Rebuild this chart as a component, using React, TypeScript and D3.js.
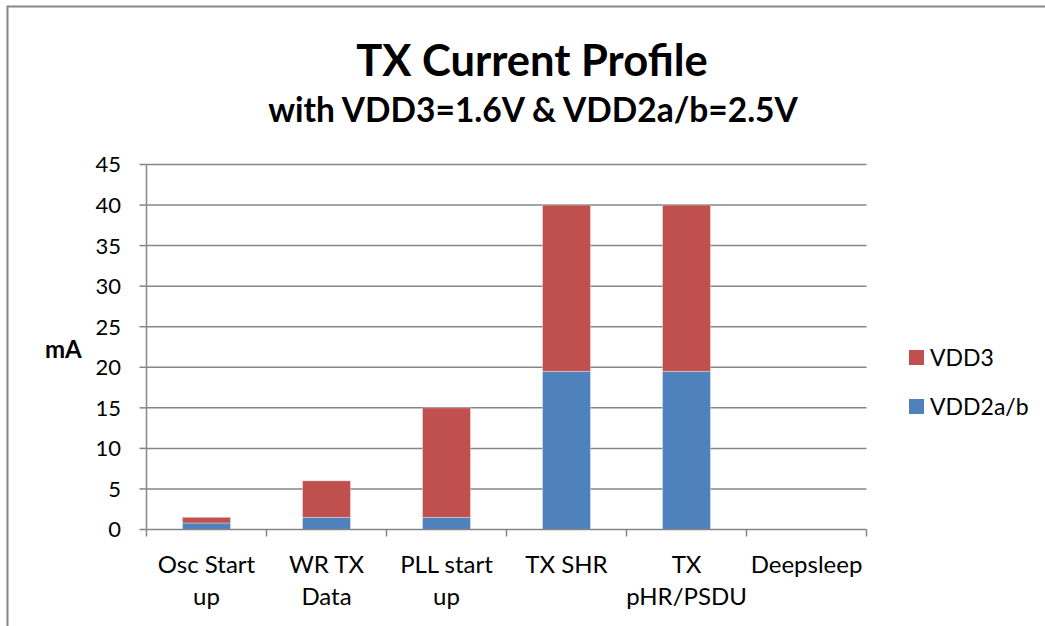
import { useEffect, useRef } from 'react';
import * as d3 from 'd3';

// Values (mA)
const categories = ['Osc Start up', 'WR TX Data', 'PLL start up', 'TX SHR', 'TX pHR/PSDU', 'Deepsleep'];
const categoryLines = [['Osc Start', 'up'], ['WR TX', 'Data'], ['PLL start', 'up'], ['TX SHR'], ['TX', 'pHR/PSDU'], ['Deepsleep']];
const vdd2Values = [0.8, 1.5, 1.5, 19.5, 19.5, 0];
const vdd3Values = [0.7, 4.5, 13.5, 20.5, 20.5, 0];
const seriesNames = ['VDD2a/b', 'VDD3'];
const seriesColors = ['#4F81BD', '#C0504D'];
const yTicks = [0, 5, 10, 15, 20, 25, 30, 35, 40, 45];

const FONT = 'Lato, "Open Sans", sans-serif';

export default function App() {
  const svgRef = useRef<SVGSVGElement>(null);

  useEffect(() => {
    if (!svgRef.current) return;
    const svg = d3.select(svgRef.current);
    svg.selectAll('*').remove();

    const left = 146.5, right = 866.5, top = 164.5, bottom = 529.5;

    const x = d3.scaleBand<string>().domain(categories).range([left, right]).paddingInner(0.6).paddingOuter(0.3);
    const y = d3.scaleLinear().domain([0, 45]).range([bottom, top]);

    // outer frame (only top & left edges visible in the crop)
    svg.append('rect')
      .attr('x', 7.5).attr('y', 6.5).attr('width', 1100).attr('height', 700)
      .attr('fill', 'none').attr('stroke', '#868686').attr('stroke-width', 2);

    // titles
    svg.append('text')
      .attr('x', 532).attr('y', 76).attr('text-anchor', 'middle')
      .attr('font-family', FONT).attr('font-weight', 'bold').attr('font-size', 43.5)
      .text('TX Current Profile');
    svg.append('text')
      .attr('x', 533).attr('y', 122).attr('text-anchor', 'middle')
      .attr('font-family', FONT).attr('font-weight', 'bold').attr('font-size', 33.5)
      .text('with VDD3=1.6V & VDD2a/b=2.5V');

    // gridlines
    svg.append('g').selectAll('line').data(yTicks.filter((t) => t > 0)).enter().append('line')
      .attr('x1', left).attr('x2', right)
      .attr('y1', (d) => y(d)).attr('y2', (d) => y(d))
      .attr('stroke', '#868686').attr('stroke-width', 1.5);

    // stacked bars
    const rows = categories.map((c, i) => ({ cat: c, vdd2: vdd2Values[i], vdd3: vdd3Values[i] }));
    const stack = d3.stack<any>().keys(['vdd2', 'vdd3'])(rows);
    stack.forEach((layer, li) => {
      svg.append('g').selectAll('rect').data(layer).enter().append('rect')
        .attr('x', (d: any) => x(d.data.cat)!)
        .attr('width', x.bandwidth())
        .attr('y', (d) => y(d[1]))
        .attr('height', (d) => y(d[0]) - y(d[1]))
        .attr('fill', seriesColors[li])
        .attr('stroke', (d) => (d[1] - d[0] > 0 ? '#ffffff' : 'none'))
        .attr('stroke-opacity', 0.35)
        .attr('stroke-width', 1);
    });

    // y axis
    svg.append('line').attr('x1', left).attr('x2', left).attr('y1', top).attr('y2', bottom)
      .attr('stroke', '#868686').attr('stroke-width', 1.5);
    svg.append('g').selectAll('line').data(yTicks).enter().append('line')
      .attr('x1', left - 7).attr('x2', left)
      .attr('y1', (d) => y(d)).attr('y2', (d) => y(d))
      .attr('stroke', '#868686').attr('stroke-width', 1.5);
    svg.append('g').selectAll('text').data(yTicks).enter().append('text')
      .attr('x', 121).attr('y', (d) => y(d)).attr('dy', '0.36em')
      .attr('text-anchor', 'end').attr('font-family', FONT).attr('font-size', 22)
      .text((d) => String(d));

    svg.append('text')
      .attr('x', 45).attr('y', 358)
      .attr('font-family', FONT).attr('font-weight', 'bold').attr('font-size', 24)
      .text('mA');

    // x axis
    svg.append('line').attr('x1', left).attr('x2', right).attr('y1', bottom).attr('y2', bottom)
      .attr('stroke', '#868686').attr('stroke-width', 1.5);
    const step = x.step();
    const xTickPos = d3.range(categories.length + 1).map((i) => left + i * step);
    svg.append('g').selectAll('line').data(xTickPos).enter().append('line')
      .attr('x1', (d) => d).attr('x2', (d) => d)
      .attr('y1', bottom).attr('y2', bottom + 7)
      .attr('stroke', '#868686').attr('stroke-width', 1.5);

    categories.forEach((c, i) => {
      const cx = x(c)! + x.bandwidth() / 2;
      categoryLines[i].forEach((line, li) => {
        svg.append('text')
          .attr('x', cx).attr('y', 573 + li * 32)
          .attr('text-anchor', 'middle').attr('font-family', FONT).attr('font-size', 24)
          .text(line);
      });
    });

    // legend (VDD3 on top)
    const legendItems = [1, 0];
    legendItems.forEach((si, k) => {
      const ly = 350 + k * 49;
      svg.append('rect').attr('x', 909).attr('y', ly).attr('width', 15).attr('height', 15)
        .attr('fill', seriesColors[si]);
      svg.append('text').attr('x', 930).attr('y', ly + 16)
        .attr('font-family', FONT).attr('font-size', 23)
        .text(seriesNames[si]);
    });
  }, []);

  return (
    <svg
      ref={svgRef}
      width={1045}
      height={626}
      style={{ position: 'absolute', left: 0, top: 0, background: '#ffffff' }}
    />
  );
}
